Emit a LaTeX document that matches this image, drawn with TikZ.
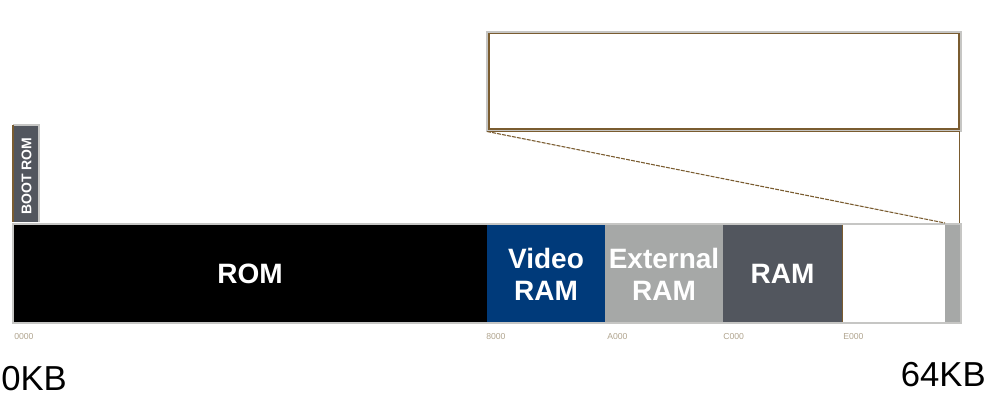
\documentclass[tikz,border=0pt]{standalone}
\usepackage{fontspec}
\setmainfont{Liberation Sans}
\definecolor{brownline}{HTML}{7A5C30}
\definecolor{greyline}{HTML}{C6C6C4}
\definecolor{navy}{HTML}{003A7A}
\definecolor{midgrey}{HTML}{A6A8A7}
\definecolor{slate}{HTML}{52565E}
\definecolor{addr}{HTML}{B0A48E}
\tikzset{
  seglabel/.style={text=white, font=\fontsize{21}{24}\selectfont\bfseries, align=center},
  kblabel/.style={font=\fontsize{26}{30}\selectfont, inner sep=0pt},
  addrlabel/.style={text=addr, font=\fontsize{6.5}{7}\selectfont, inner sep=0pt, anchor=west}
}
\begin{document}
\begin{tikzpicture}[x=0.75pt,y=-0.75pt]
\useasboundingbox (0,0) rectangle (995,402);
% bar segments
\fill[black] (13,224) rectangle (487,323);
\fill[navy] (487,224) rectangle (605,323);
\fill[midgrey] (605,224) rectangle (723,323);
\fill[slate] (723,224) rectangle (842,323);
\fill[white] (842,224) rectangle (945,323);
\fill[midgrey] (945,224) rectangle (961,323);
\draw[brownline, line width=0.8pt] (842.5,225) -- (842.5,322.5) -- (945,322.5);
\draw[greyline, line width=1.5pt] (13,224) rectangle (961,323.5);
\node[seglabel] (rom) at (250,274) {ROM};
\node[seglabel] (vram) at (546,274) {Video\\RAM};
\node[seglabel] (xram) at (664,274) {External\\RAM};
\node[seglabel] (ram) at (782.5,274) {RAM};
% boot rom
\fill[slate] (13,125) rectangle (39,222);
\draw[greyline, line width=1pt] (13,125) -- (39,125) -- (39,222);
\draw[brownline, line width=1pt] (13,125) -- (13,222);
\node[text=white, font=\fontsize{10.5}{12}\selectfont\bfseries, rotate=90] (boot) at (26.5,176) {BOOT ROM};
% zoom box
\draw[greyline, line width=1.6pt] (487.5,32) rectangle (960.5,130.5);
\draw[brownline, line width=0.8pt] (489,33.5) rectangle (959,129);
\coordinate (zl) at (487,131.5);
\coordinate (zr) at (959.5,131.5);
\coordinate (bl) at (945,223);
\coordinate (br) at (959.5,223);
\draw[brownline, line width=0.7pt] (zl) -- (zr) -- (br);
\draw[brownline, line width=0.8pt, dash pattern=on 3pt off 0.8pt] (zl) -- (bl);
% address labels
\node[addrlabel] (a0) at (14,337) {0000};
\node[addrlabel] (a1) at (486,337) {8000};
\node[addrlabel] (a2) at (607,337) {A000};
\node[addrlabel] (a3) at (723,337) {C000};
\node[addrlabel] (a4) at (843,337) {E000};
% kb labels
\node[kblabel, anchor=west] (k0) at (1,379) {0KB};
\node[kblabel, anchor=east] (k64) at (986,375) {64KB};
\end{tikzpicture}
\end{document}
